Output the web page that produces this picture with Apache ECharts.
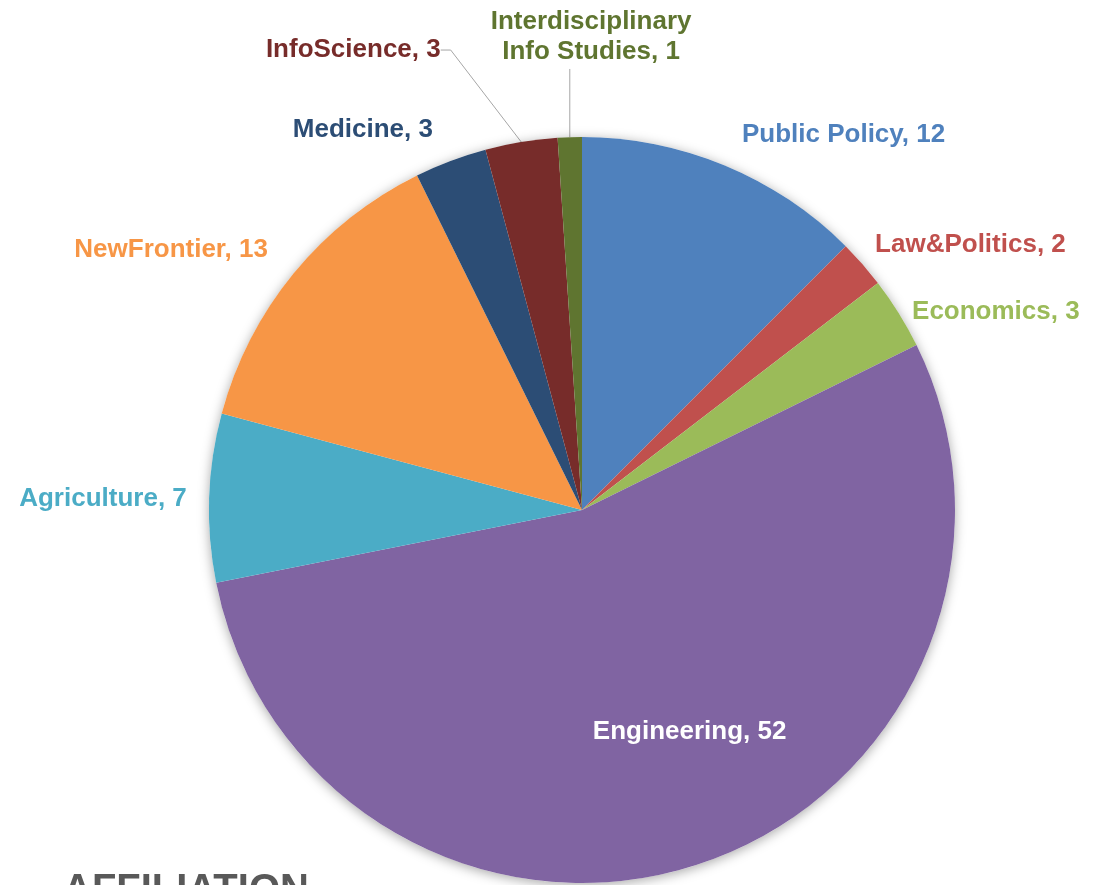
<!DOCTYPE html>
<html>
<head>
<meta charset="utf-8">
<script src="https://cdn.jsdelivr.net/npm/echarts@6/dist/echarts.min.js"></script>
<style>
  html, body { margin: 0; padding: 0; background: #fff; }
  #chart { width: 1099px; height: 885px; }
</style>
</head>
<body>
<div id="chart"></div>
<script>
// data
const names = ['Public Policy', 'Law&Politics', 'Economics', 'Engineering', 'Agriculture',
               'NewFrontier', 'Medicine', 'InfoScience', 'Interdisciplinary\nInfo Studies'];
const values = [12, 2, 3, 52, 7, 13, 3, 3, 1];
const colors = ['#4F81BD', '#C0504D', '#9BBB59', '#8064A2', '#4BACC6',
                '#F79646', '#2C4D75', '#772C2A', '#5F7530'];
const labelColors = ['#4F81BD', '#C0504D', '#9BBB59', '#FFFFFF', '#4BACC6',
                     '#F79646', '#2C4D75', '#772C2A', '#5F7530'];

// pie geometry
const CX = 582, CY = 510, R = 373;
// label placement: radius factor, angle shift from slice middle (deg), align, vertical align
const labelPlace = [
  [1.093, 0.6, 'left', 'middle'],
  [1.059, -0.85, 'left', 'middle'],
  [1.032, 0.9, 'left', 'middle'],
  [0.662, -7.1, 'center', 'middle'],
  [1.06, -0.2, 'right', 'middle'],
  [1.094, 0.3, 'right', 'middle'],
  [1.094, -0.8, 'right', 'middle'],
  [1.29, -7.7, 'right', 'middle'],
  [1.188, 3.05, 'center', 'bottom']
];

const total = values.reduce((a, b) => a + b, 0);
const midAngles = [];
let acc = 0;
values.forEach(v => { midAngles.push((acc + v / 2) / total * 360); acc += v; });

const lineShown = [false, false, false, false, false, false, false, true, true];

const pieData = names.map((n, i) => ({
  name: n,
  value: values[i],
  itemStyle: { color: colors[i] },
  label: {
    color: labelColors[i],
    position: i === 3 ? 'inside' : 'outside'
  },
  labelLine: { show: lineShown[i] }
}));

const chart = echarts.init(document.getElementById('chart'));
chart.setOption({
  animation: false,
  title: {
    text: 'AFFILIATION',
    left: 58,
    top: 866,
    textStyle: { fontFamily: 'Liberation Sans, Arial, sans-serif', fontSize: 40, fontWeight: 'bold', color: '#595959' }
  },
  series: [
    {
      type: 'pie',
      silent: true,
      center: [CX, CY],
      radius: R,
      label: { show: false },
      labelLine: { show: false },
      itemStyle: { color: '#fff', shadowBlur: 12, shadowColor: 'rgba(0,0,0,0.35)', shadowOffsetY: 2 },
      data: [{ value: 1, name: 'bg' }]
    },
    {
      type: 'pie',
      center: [CX, CY],
      radius: R,
      startAngle: 90,
      clockwise: true,
      avoidLabelOverlap: false,
      itemStyle: { borderWidth: 0 },
      label: {
        formatter: '{b}, {c}',
        fontFamily: 'Liberation Sans, Arial, sans-serif',
        fontSize: 26,
        fontWeight: 'bold',
        lineHeight: 30,
        align: 'center'
      },
      labelLine: {
        length: 10,
        length2: 10,
        lineStyle: { color: '#A6A6A6', width: 1 }
      },
      labelLayout: function (p) {
        if (p.seriesIndex !== 1) return;
        const i = p.dataIndex;
        const pl = labelPlace[i];
        const a = (midAngles[i] + pl[1]) * Math.PI / 180;
        const r = R * pl[0];
        const out = {
          x: CX + r * Math.sin(a),
          y: CY - r * Math.cos(a),
          align: pl[2],
          verticalAlign: pl[3]
        };
        if (i === 8) {
          // vertical leader from the slice's outer edge up to the label
          const m = midAngles[i] * Math.PI / 180;
          const ex = CX + R * Math.sin(m);
          const ey = CY - R * Math.cos(m);
          out.labelLinePoints = [[ex, ey], [ex, out.y + 2], [ex, out.y + 2]];
        }
        return out;
      },
      data: pieData
    }
  ]
});
</script>
</body>
</html>
